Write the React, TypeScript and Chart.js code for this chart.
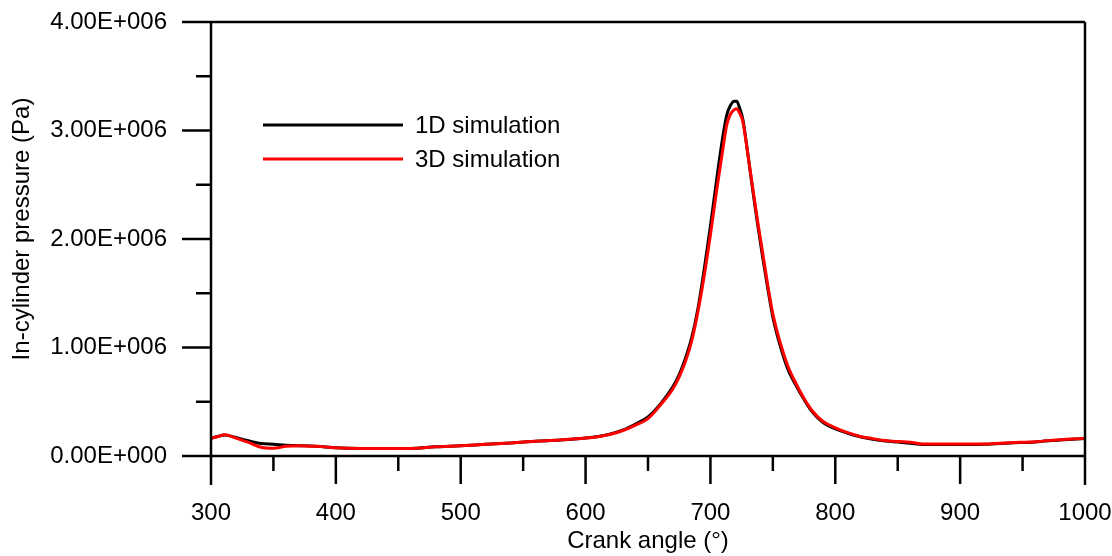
import React, { useEffect, useRef } from "react";
import { Chart, registerables } from "chart.js";

Chart.register(...registerables);

// Crank angle (deg)
const crankAngle = [
  300, 305, 311, 320, 330, 340, 350, 360, 370, 380, 390, 400, 420, 440, 460, 480,
  500, 520, 540, 560, 580, 600, 610, 620, 630, 640, 650, 660, 670, 675, 680, 685,
  690, 695, 700, 705, 710, 713, 716, 719, 721, 723, 726, 730, 734, 738, 742, 746,
  750, 756, 762, 768, 775, 782, 790, 800, 810, 820, 830, 840, 850, 860, 870, 880,
  900, 920, 940, 960, 980, 1000,
];

// In-cylinder pressure, in units of 1E+006 Pa
const pressure1D = [
  0.163, 0.18, 0.193, 0.17, 0.14, 0.115, 0.108, 0.1, 0.095, 0.092, 0.085, 0.077, 0.07, 0.069, 0.07, 0.085,
  0.095, 0.108, 0.12, 0.135, 0.148, 0.166, 0.18, 0.203, 0.24, 0.295, 0.36, 0.48, 0.64, 0.75, 0.9, 1.09,
  1.36, 1.72, 2.12, 2.55, 2.95, 3.14, 3.23, 3.27, 3.27, 3.22, 3.1, 2.78, 2.44, 2.12, 1.82, 1.54,
  1.28, 1.01, 0.8, 0.66, 0.52, 0.4, 0.31, 0.25, 0.21, 0.178, 0.155, 0.138, 0.128, 0.118, 0.105, 0.105,
  0.106, 0.108, 0.12, 0.13, 0.148, 0.162,
];

const pressure3D = [
  0.163, 0.178, 0.195, 0.165, 0.125, 0.08, 0.071, 0.09, 0.095, 0.09, 0.086, 0.075, 0.068, 0.068, 0.069, 0.085,
  0.095, 0.108, 0.12, 0.135, 0.148, 0.165, 0.178, 0.2, 0.235, 0.285, 0.345, 0.47, 0.62, 0.73, 0.87, 1.06,
  1.33, 1.66, 2.04, 2.45, 2.83, 3.05, 3.15, 3.19, 3.2, 3.17, 3.08, 2.78, 2.46, 2.15, 1.86, 1.57,
  1.31, 1.04, 0.83, 0.68, 0.53, 0.41, 0.32, 0.26, 0.215, 0.18, 0.16, 0.142, 0.133, 0.127, 0.11, 0.11,
  0.11, 0.11, 0.123, 0.132, 0.15, 0.163,
];

const seriesLabels = ["1D simulation", "3D simulation"];
const seriesColors = ["#000000", "#ff0000"];

const yTickValues = [0, 1e6, 2e6, 3e6, 4e6];
const yTickLabels = ["0.00E+000", "1.00E+006", "2.00E+006", "3.00E+006", "4.00E+006"];
const xTickValues = [300, 400, 500, 600, 700, 800, 900, 1000];
const xTickLabels = ["300", "400", "500", "600", "700", "800", "900", "1000"];

const xAxisTitle = "Crank angle (°)";
const yAxisTitle = "In-cylinder pressure (Pa)";

const FONT = '"Liberation Sans", Arial, Helvetica, sans-serif';
const FONT_SIZE = 24;

const framePlugin = {
  id: "framePlugin",
  afterDraw(chart: any) {
    const { ctx, chartArea, scales } = chart;
    const { left, right, top, bottom } = chartArea;
    const xs = scales.x;
    const ys = scales.y;
    const MAJ = 29;
    const MIN = 15;
    ctx.save();
    ctx.strokeStyle = "#000";
    ctx.lineWidth = 2.5;
    ctx.lineCap = "butt";
    ctx.beginPath();
    ctx.moveTo(left, top);
    ctx.lineTo(right, top);
    ctx.moveTo(left, top);
    ctx.lineTo(left, bottom + MAJ);
    ctx.moveTo(right, top);
    ctx.lineTo(right, bottom + MAJ);
    ctx.moveTo(left - MAJ, bottom);
    ctx.lineTo(right, bottom);
    ys.ticks.forEach((t: any) => {
      const py = ys.getPixelForValue(t.value);
      const major = Math.abs(t.value % 1e6) < 1;
      ctx.moveTo(left - (major ? MAJ : MIN), py);
      ctx.lineTo(left, py);
    });
    xs.ticks.forEach((t: any) => {
      const px = xs.getPixelForValue(t.value);
      const major = Math.abs(t.value % 100) < 1e-6;
      ctx.moveTo(px, bottom);
      ctx.lineTo(px, bottom + (major ? MAJ - 1 : MIN));
    });
    ctx.stroke();

    // y-axis title
    ctx.fillStyle = "#000";
    ctx.font = `${FONT_SIZE}px ${FONT}`;
    ctx.textAlign = "center";
    ctx.textBaseline = "middle";
    ctx.save();
    ctx.translate(22, 229);
    ctx.rotate(-Math.PI / 2);
    ctx.fillText(yAxisTitle, 0, 0);
    ctx.restore();

    // legend
    const legendRows = [125, 159];
    chart.data.datasets.forEach((ds: any, i: number) => {
      const ly = legendRows[i];
      ctx.strokeStyle = ds.borderColor;
      ctx.lineWidth = 3;
      ctx.beginPath();
      ctx.moveTo(263, ly);
      ctx.lineTo(403, ly);
      ctx.stroke();
      ctx.fillStyle = "#000";
      ctx.textAlign = "left";
      ctx.textBaseline = "middle";
      ctx.fillText(ds.label, 415, ly + 1);
    });
    ctx.restore();
  },
};

export default function App() {
  const canvasRef = useRef<HTMLCanvasElement | null>(null);

  useEffect(() => {
    const canvas = canvasRef.current;
    if (!canvas) return;
    Chart.defaults.font.family = FONT;
    Chart.defaults.font.size = FONT_SIZE;
    Chart.defaults.color = "#000";

    const makeData = (vals: number[]) =>
      crankAngle.map((a, i) => ({ x: a, y: vals[i] * 1e6 }));

    const chart = new Chart(canvas, {
      type: "line",
      data: {
        datasets: [
          {
            label: seriesLabels[0],
            data: makeData(pressure1D),
            borderColor: seriesColors[0],
            borderWidth: 3,
            pointRadius: 0,
            cubicInterpolationMode: "monotone",
            order: 1,
          },
          {
            label: seriesLabels[1],
            data: makeData(pressure3D),
            borderColor: seriesColors[1],
            borderWidth: 3,
            pointRadius: 0,
            cubicInterpolationMode: "monotone",
            order: 0,
          },
        ],
      },
      options: {
        responsive: false,
        animation: false,
        events: [],
        layout: { padding: { left: 0, top: 22, right: 27, bottom: 0 } },
        plugins: { legend: { display: false }, tooltip: { enabled: false } },
        scales: {
          x: {
            type: "linear",
            min: 300,
            max: 1000,
            grid: { display: false },
            border: { display: false },
            ticks: {
              stepSize: 50,
              autoSkip: false,
              maxRotation: 0,
              padding: 35,
              callback: (v: any) => {
                const idx = xTickValues.indexOf(Number(v));
                return idx >= 0 ? xTickLabels[idx] : "";
              },
            },
            title: {
              display: true,
              text: xAxisTitle,
              padding: { top: 0, bottom: 0 },
            },
            afterFit: (scale: any) => {
              scale.height = 100;
              scale.paddingLeft = 0;
              scale.paddingRight = 0;
            },
          },
          y: {
            min: 0,
            max: 4e6,
            grid: { display: false },
            border: { display: false },
            ticks: {
              stepSize: 5e5,
              autoSkip: false,
              padding: 36,
              callback: (v: any) => {
                const idx = yTickValues.indexOf(Number(v));
                return idx >= 0 ? yTickLabels[idx] : "";
              },
            },
            afterFit: (scale: any) => {
              scale.width = 211;
              scale.paddingTop = 0;
              scale.paddingBottom = 0;
            },
          },
        },
      },
      plugins: [framePlugin],
    });
    return () => chart.destroy();
  }, []);

  return (
    <div style={{ position: "fixed", left: 0, top: 0, width: 1112, height: 556, background: "#fff" }}>
      <canvas ref={canvasRef} width={1112} height={556} />
    </div>
  );
}
